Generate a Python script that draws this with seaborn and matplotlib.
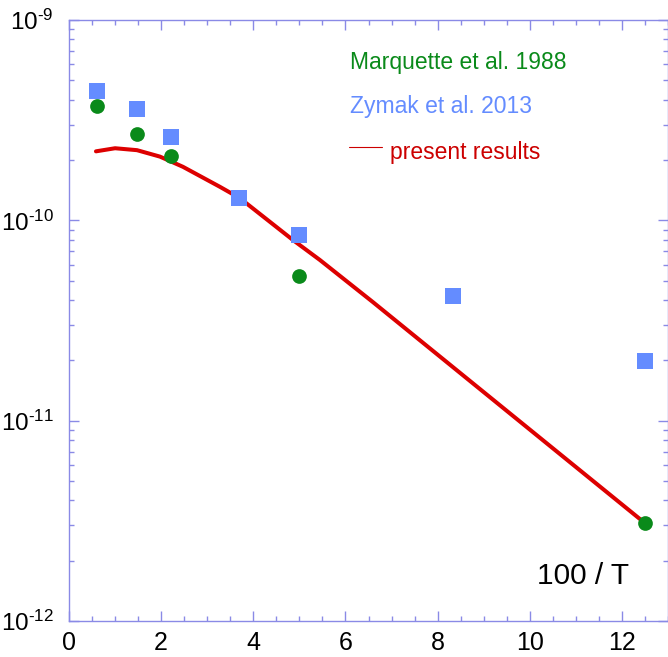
import numpy as np
import pandas as pd
import matplotlib
matplotlib.use("Agg")
import matplotlib.pyplot as plt
import seaborn as sns
from matplotlib.ticker import MultipleLocator, LogLocator, FixedLocator, FuncFormatter
from matplotlib.lines import Line2D

# ---- data (x = 100/T) ----
marq_x = [0.61, 1.47, 2.22, 5.0, 12.5]
marq_y = [3.71e-10, 2.70e-10, 2.10e-10, 5.30e-11, 3.08e-12]

zym_x = [0.61, 1.47, 2.22, 3.70, 5.0, 8.33, 12.5]
zym_y = [4.41e-10, 3.59e-10, 2.60e-10, 1.30e-10, 8.41e-11, 4.19e-11, 1.99e-11]

pres_x = [0.585, 1.0, 1.475, 1.974, 2.473, 3.275, 3.709, 4.859, 5.445, 6.594, 12.5]
pres_y = [2.21e-10, 2.29e-10, 2.24e-10, 2.08e-10, 1.85e-10, 1.47e-10, 1.29e-10,
          7.98e-11, 6.34e-11, 3.91e-11, 3.08e-12]

x_ticks = [0, 2, 4, 6, 8, 10, 12]
y_ticks = [1e-12, 1e-11, 1e-10, 1e-9]

label_marq = "Marquette et al. 1988"
label_zym = "Zymak et al. 2013"
label_pres = "present results"
x_label = "100 / T"

GREEN = "#0a8a1a"
BLUE = "#648cff"
RED = "#dd0000"
SPINE = "#8a8ae6"

sns.set_style("ticks")
plt.rcParams['font.family'] = ['Liberation Sans', 'DejaVu Sans']
plt.rcParams['mathtext.fontset'] = 'custom'
plt.rcParams['mathtext.rm'] = 'Liberation Sans'
plt.rcParams['mathtext.it'] = 'Liberation Sans:italic'
plt.rcParams['mathtext.default'] = 'regular'

fig = plt.figure(figsize=(6.68, 6.57), dpi=100)
W, H = 668, 657
ax = fig.add_axes([69 / W, 1 - 621 / H, (668 - 69) / W, (621 - 20) / H])

df_pres = pd.DataFrame({"x": pres_x, "y": pres_y})
df_marq = pd.DataFrame({"x": marq_x, "y": marq_y})
df_zym = pd.DataFrame({"x": zym_x, "y": zym_y})

sns.lineplot(data=df_pres, x="x", y="y", color=RED, lw=2.9, ax=ax, zorder=2)
sns.scatterplot(data=df_zym, x="x", y="y", marker="s", s=118, color=BLUE, linewidth=0, ax=ax, zorder=3)
sns.scatterplot(data=df_marq, x="x", y="y", marker="o", s=112, color=GREEN, linewidth=0, ax=ax, zorder=4)

ax.set_yscale("log")
ax.set_xlim(0, 13)
ax.set_ylim(1e-12, 1e-9)
ax.set_xlabel("")
ax.set_ylabel("")

ax.xaxis.set_major_locator(FixedLocator(x_ticks))
ax.xaxis.set_minor_locator(MultipleLocator(0.5))
ax.yaxis.set_major_locator(FixedLocator(y_ticks))
ax.yaxis.set_minor_locator(LogLocator(base=10, subs=np.arange(2, 10)))
ax.yaxis.set_major_formatter(FuncFormatter(
    lambda v, p: r"$10^{\text{-}%d}$" % abs(int(round(np.log10(v))))))

ax.tick_params(which="both", direction="in", top=True, right=True, colors=SPINE,
               labelcolor="black", width=1.0)
ax.tick_params(which="major", length=7.5)
ax.tick_params(which="minor", length=3.6)
ax.tick_params(axis="x", which="major", labelsize=18, pad=7)
ax.tick_params(axis="y", which="major", labelsize=17.5, pad=11)

for sp in ax.spines.values():
    sp.set_visible(True)
    sp.set_color(SPINE)
    sp.set_linewidth(1.0)

# annotations
fig.text(350 / W, 1 - 62 / H, label_marq, color=GREEN, fontsize=16.5, va="center", ha="left")
fig.text(350 / W, 1 - 107 / H, label_zym, color=BLUE, fontsize=16.5, va="center", ha="left")
fig.text(390 / W, 1 - 152 / H, label_pres, color="#cc0000", fontsize=16.5, va="center", ha="left")
fig.add_artist(Line2D([349 / W, 382 / W], [1 - 147 / H, 1 - 147 / H], color="#cc0000", lw=0.8))
fig.text(583 / W, 1 - 576 / H, x_label, color="black", fontsize=21.5, va="center", ha="center")

fig.savefig("out.png", dpi=100)
